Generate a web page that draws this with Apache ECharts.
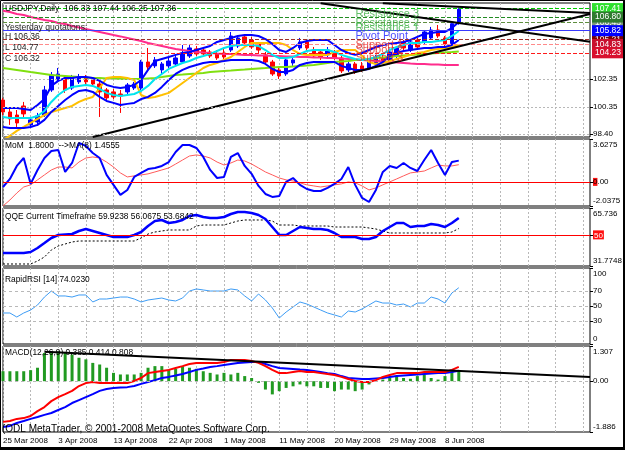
<!DOCTYPE html>
<html><head><meta charset="utf-8">
<script src="https://cdn.jsdelivr.net/npm/echarts@6/dist/echarts.min.js"></script>
<style>html,body{margin:0;padding:0;background:#fff}#c{width:625px;height:450px}</style>
</head><body><div id="c"></div>
<script>
// ---------- DATA ----------
const dateLabels = ['25 Mar 2008','3 Apr 2008','13 Apr 2008','22 Apr 2008','1 May 2008','11 May 2008','20 May 2008','29 May 2008','8 Jun 2008'];
const slotCount = 86; // bars + empty right margin
// candles: [open, close, low, high]
const candles = [
[100.84,99.98,99.76,100.99],[99.98,99.48,99.05,100.27],[99.76,99.19,98.83,100.12],[100.41,99.84,99.55,100.70],
[99.05,99.41,98.83,99.62],[99.26,99.69,98.97,99.91],[99.76,101.56,99.62,101.85],[101.56,102.64,101.42,102.85],
[102.28,102.71,102.14,103.14],[102.42,101.56,101.35,102.57],[101.70,102.42,101.56,102.64],[102.14,102.49,101.99,102.71],
[102.42,102.14,101.92,102.64],[102.28,101.99,101.85,102.49],[101.99,101.42,99.62,102.28],[101.56,100.99,100.77,101.70],
[101.42,101.06,100.91,101.63],[101.27,101.13,99.91,101.56],[101.42,101.92,101.27,102.06],[101.70,101.99,101.56,102.14],
[101.70,103.57,101.56,103.72],[103.57,103.21,102.85,104.58],[103.29,103.72,103.14,103.93],[103.00,103.43,102.71,103.57],
[103.29,103.64,103.14,103.86],[103.43,103.86,103.29,104.08],[103.57,104.22,103.43,104.79],[104.00,104.58,103.86,104.79],
[104.51,104.15,104.00,104.72],[104.43,104.15,104.00,104.58],[104.29,104.00,103.86,104.43],[104.15,103.86,103.72,104.43],
[104.22,103.93,103.79,104.58],[104.43,105.44,104.29,105.73],[104.72,105.30,104.58,105.51],[105.37,104.94,104.79,105.58],
[105.15,104.65,104.51,105.37],[104.87,104.43,104.22,105.01],[104.08,103.57,103.43,104.29],[103.57,102.71,102.57,103.72],
[103.00,102.57,102.35,103.21],[102.71,103.72,102.57,103.93],[103.50,103.72,103.29,104.00],[104.58,105.01,104.43,105.30],
[105.01,104.58,104.29,105.15],[104.43,104.00,103.86,104.65],[104.29,103.93,103.72,104.43],[104.08,104.43,103.93,104.65],
[104.22,103.86,103.72,104.43],[103.86,102.93,102.78,104.00],[103.00,103.43,102.85,103.64],[103.43,102.85,102.71,103.57],
[103.29,103.00,102.85,103.57],[103.14,103.57,103.00,103.86],[103.43,103.86,103.29,104.08],[103.86,103.57,103.43,104.08],
[103.72,104.29,103.57,104.51],[104.00,104.58,103.86,104.72],[105.01,104.58,104.43,105.15],[104.43,105.01,104.29,105.15],
[105.15,104.65,104.58,105.30],[105.01,105.73,104.87,105.87],[105.30,105.87,105.15,106.09],[105.87,105.44,105.30,106.23],
[105.30,104.87,104.72,105.44],[104.90,106.32,104.77,106.36],[106.33,107.36,106.25,107.44]
];
const bandUpper = [100.27,100.27,100.27,100.20,100.12,100.48,100.91,101.85,102.21,102.42,102.42,102.49,102.49,102.42,102.21,101.92,101.78,101.70,101.78,101.92,102.28,103.00,103.64,103.79,103.93,104.08,104.22,104.29,104.43,104.58,104.72,105.01,105.15,105.30,105.44,105.51,105.51,105.44,105.22,104.87,104.43,104.29,104.58,104.94,105.08,105.15,105.15,105.15,104.79,104.43,104.22,104.08,104.22,104.43,104.65,104.79,104.87,104.94,105.01,105.15,105.37,105.58,105.66,105.73,105.73,106.01,106.45];
const bandLower = [98.90,98.83,98.83,98.83,98.90,99.05,99.41,99.98,100.41,100.84,101.20,101.49,101.56,101.42,101.06,100.77,100.63,100.48,100.56,100.63,100.91,101.06,101.35,101.78,102.28,102.71,103.00,103.21,103.36,103.50,103.57,103.57,103.64,103.72,103.72,103.72,103.72,103.64,103.43,103.07,102.85,102.85,103.00,103.36,103.50,103.57,103.57,103.57,103.57,103.29,103.14,103.00,103.00,103.07,103.29,103.57,104.00,104.22,104.36,104.43,104.51,104.58,104.58,104.65,104.65,104.79,105.15];
const bandMid = [99.62,99.55,99.55,99.55,99.55,99.69,100.05,100.70,101.20,101.56,101.78,101.85,101.92,101.85,101.63,101.35,101.20,101.13,101.20,101.27,101.49,101.85,102.35,102.71,103.07,103.29,103.50,103.64,103.86,104.00,104.15,104.36,104.58,104.72,104.79,104.79,104.79,104.72,104.43,104.08,103.86,103.86,103.93,104.15,104.36,104.43,104.43,104.43,104.29,104.08,103.93,103.79,103.72,103.79,103.93,104.15,104.43,104.65,104.79,104.94,104.94,105.01,105.01,105.08,105.15,105.44,105.80];
const maYellow = [97.97,98.26,98.62,98.90,99.19,99.48,99.76,99.98,100.12,100.27,100.41,100.70,100.91,101.06,101.70,102.42,102.49,102.49,102.42,102.28,101.20,100.99,101.06,101.20,101.35,101.70,102.06,102.42,102.78,103.14,103.36,103.50,103.72,103.93,104.29,104.65,104.94,104.94,104.94,104.94,104.94,104.79,104.43,104.15,104.08,104.08,104.08,104.08,104.29,104.43,104.43,104.43,104.00,103.57,103.43,103.50,103.64,103.79,103.93,104.08,104.22,104.29,104.43,104.51,104.58,104.65,104.79];
const maGreen = [103.14,103.07,103.00,102.93,102.85,102.78,102.71,102.64,102.60,102.57,102.53,102.49,102.46,102.42,102.42,102.39,102.39,102.35,102.35,102.35,102.35,102.39,102.42,102.49,102.57,102.64,102.67,102.71,102.74,102.78,102.85,102.89,102.93,102.96,103.00,103.03,103.07,103.11,103.14,103.18,103.21,103.21,103.25,103.29,103.32,103.36,103.43,103.50,103.57,103.61,103.64,103.72,103.75,103.79,103.86,103.90,103.93,104.00,104.04,104.08,104.11,104.15,104.18,104.22,104.26,104.29,104.33];
const maPink = [107.26,107.16,107.02,106.95,106.81,106.70,106.59,106.52,106.37,106.30,106.16,106.05,105.94,105.84,105.73,105.62,105.51,105.41,105.30,105.19,105.08,104.94,104.83,104.72,104.61,104.51,104.43,104.36,104.29,104.25,104.22,104.18,104.15,104.15,104.11,104.08,104.08,104.04,104.04,104.00,104.00,103.97,103.97,103.93,103.93,103.90,103.90,103.86,103.86,103.82,103.79,103.75,103.72,103.68,103.64,103.61,103.57,103.54,103.50,103.46,103.43,103.43,103.39,103.39,103.36,103.36,103.36];
const pivotValues = [107.41,106.80,106.43,105.82,105.21,104.83,104.23];
const pivotNames = ['Resistance 3','Resistance 2','Resistance 1','Pivot Point','Support 1','Support 2','Support 3'];
const mainTicks = [102.35,100.35,98.40];
// trend lines: [startBar, startPrice, endBar, endPrice]
const trendLines = [[13,98.18,85,107.02],[46,107.80,85,105.02],[55,107.80,85,107.09]];
const momValues = [-0.43,0.25,1.35,2.02,-0.17,1.01,2.02,2.61,2.70,0.84,1.60,3.29,3.04,2.44,2.02,0.59,-0.25,-1.10,-0.68,0.42,0.76,1.09,1.18,1.35,1.68,2.53,3.12,3.12,2.87,2.11,1.01,0.33,0.42,2.11,2.44,1.35,0.68,-0.34,-1.02,-1.27,-1.19,0.00,0.33,-0.25,-0.60,-0.77,-0.77,-0.51,-0.17,0.25,1.26,-0.25,-1.36,-1.70,-0.68,0.84,1.35,1.18,1.60,1.18,0.92,1.85,2.70,1.60,0.59,1.68,1.80];
const momMA = [-2.04,-1.53,-0.94,-0.43,-0.25,0.17,0.59,1.01,1.26,1.26,1.18,1.68,2.02,2.11,2.02,1.68,1.26,0.76,0.42,0.51,0.59,0.68,0.84,1.01,1.18,1.51,1.85,2.19,2.28,2.19,2.02,1.68,1.43,1.60,1.85,1.77,1.51,1.18,0.84,0.59,0.33,0.17,0.08,-0.08,-0.25,-0.34,-0.43,-0.34,-0.25,-0.17,0.00,-0.08,-0.34,-0.68,-0.51,-0.25,0.00,0.25,0.51,0.76,0.84,0.92,1.18,1.43,1.35,1.35,1.4555];
const qqeFast = [39.39,39.39,39.39,39.39,39.97,42.32,45.24,48.17,49.93,50.22,50.51,52.27,53.44,52.27,51.10,49.93,48.76,48.76,48.76,49.93,51.68,55.20,58.12,58.71,56.95,57.54,58.71,61.05,61.64,60.47,59.88,59.88,60.47,62.22,63.39,63.39,62.81,61.64,59.30,54.61,49.93,49.93,52.27,54.61,54.03,53.44,53.44,52.86,51.10,48.76,48.76,48.76,47.59,47.59,48.76,52.27,54.61,56.95,56.95,54.61,55.20,55.20,56.37,55.78,54.61,56.95,59.92];
const qqeSlow = [32.95,32.95,32.95,32.95,32.95,34.70,37.05,41.14,43.49,44.66,45.83,46.41,46.41,46.41,46.41,46.41,46.41,46.41,46.41,46.41,48.17,50.51,51.68,52.27,52.86,52.86,52.86,52.86,55.20,55.78,55.78,55.78,55.78,56.95,58.12,58.71,58.71,58.71,58.71,58.12,55.78,55.78,55.78,55.20,55.20,55.20,55.20,55.20,54.61,54.61,54.61,54.61,54.61,54.03,53.44,52.27,51.10,51.10,51.10,51.10,51.10,51.10,51.10,51.10,51.10,51.68,53.68];
const rsiValues = [40.8,40.8,35.5,40.8,44.7,51.3,61.8,69.7,63.2,63.2,61.8,64.5,64.5,55.3,59.2,59.2,60.5,61.8,61.8,59.2,55.3,57.9,59.2,60.5,57.9,56.6,60.5,69.7,72.4,71.1,69.7,69.7,69.7,72.4,71.1,63.2,56.6,65.8,57.9,47.4,34.2,42.1,48.7,55.3,52.6,48.7,44.7,40.8,38.2,35.5,43.4,42.1,46.1,51.3,56.6,53.9,53.9,51.3,52.6,48.7,53.9,53.9,61.8,59.2,53.9,67.1,74.02];
const macdHist = [0.37,0.37,0.37,0.37,0.41,0.50,1.05,1.11,1.11,1.05,0.99,0.87,0.81,0.68,0.62,0.50,0.31,0.25,0.25,0.25,0.31,0.50,0.56,0.56,0.43,0.46,0.56,0.50,0.46,0.37,0.31,0.25,0.31,0.25,0.31,0.19,0.12,-0.06,-0.31,-0.49,-0.37,-0.25,-0.19,-0.12,-0.19,-0.19,-0.25,-0.25,-0.37,-0.31,-0.31,-0.37,-0.31,-0.12,0.00,0.06,0.12,0.19,0.12,0.09,0.19,0.25,0.12,0.06,0.19,0.37,0.41];
const macdRed = [-1.51,-1.48,-1.40,-1.37,-1.29,-1.11,-0.96,-0.74,-0.59,-0.48,-0.36,-0.18,-0.07,-0.03,-0.07,-0.07,-0.07,-0.07,-0.07,0.01,0.12,0.30,0.34,0.38,0.42,0.49,0.56,0.64,0.68,0.68,0.68,0.68,0.71,0.79,0.79,0.79,0.75,0.68,0.56,0.42,0.30,0.30,0.34,0.38,0.34,0.34,0.30,0.27,0.23,0.16,0.08,0.01,-0.03,-0.03,0.04,0.16,0.23,0.30,0.30,0.30,0.30,0.34,0.34,0.34,0.34,0.42,0.53];
const macdBlue = [-1.70,-1.66,-1.55,-1.48,-1.40,-1.33,-1.25,-1.18,-1.07,-0.96,-0.81,-0.70,-0.59,-0.48,-0.36,-0.29,-0.25,-0.23,-0.22,-0.18,-0.10,-0.03,0.04,0.12,0.16,0.21,0.27,0.34,0.42,0.47,0.53,0.56,0.60,0.64,0.68,0.69,0.71,0.71,0.64,0.56,0.49,0.47,0.45,0.43,0.42,0.38,0.34,0.30,0.27,0.19,0.12,0.10,0.08,0.08,0.10,0.12,0.16,0.19,0.21,0.23,0.25,0.27,0.29,0.30,0.30,0.34,0.385];
const macdTrend = [6,1.09,85,0.16];
const texts = {
  main: 'USDJPY,Daily  106.33 107.44 106.25 107.36',
  yq: 'Yesterday quotations:', yh: 'H 106.36', yl: 'L 104.77', yc: 'C 106.32',
  mom: 'MoM  1.8000  -->MA(8) 1.4555',
  qqe: 'QQE Current Timeframe 59.9238 56.0675 53.6842',
  rsi: 'RapidRSI [14] 74.0230',
  macd: 'MACD(12,26,9) 0.385 0.414 0.808',
  copy: '(ODL MetaTrader, \u00a9 2001-2008 MetaQuotes Software Corp.'
};

// ---------- LAYOUT / STYLE ----------
const FONT = 'Liberation Sans';
const L = 3, R = 35;
const panels = [
  {top:3, height:134},
  {top:139, height:67},
  {top:208, height:58},
  {top:268, height:76},
  {top:346, height:86}
];
const slots = Array.from({length: slotCount}, (_, i) => i);
const grids = panels.map(p => ({left:L, right:R, top:p.top, height:p.height, show:true, borderColor:'#000', borderWidth:1, backgroundColor:'#fff'}));
const xAxes = panels.map((p, gi) => ({
  type:'category', gridIndex:gi, data:slots, boundaryGap:false,
  axisLine:{show:false}, axisTick:{show:false},
  splitLine:{show:true, interval:3, lineStyle:{color:'#b8b8b8', type:[2,2], width:1}},
  axisLabel: gi === 4 ? {
    show:true, interval:7, align:'left', margin:5, fontSize:8, fontFamily:FONT, color:'#000',
    formatter:(v, idx) => (idx % 8 === 0 && idx / 8 < dateLabels.length) ? dateLabels[idx / 8] : ''
  } : {show:false}
}));
function yAx(gi, min, max, vals, fmt, rich) {
  return {type:'value', gridIndex:gi, position:'right', min, max, scale:true,
    axisLine:{show:false}, splitLine:{show:false},
    axisTick:{show:true, customValues:vals, length:3, lineStyle:{color:'#000'}},
    axisLabel:{customValues:vals, formatter:fmt, rich:rich||{}, fontSize:8, fontFamily:FONT, color:'#000', margin:3}};
}
const edgeRich = {t:{padding:[11,0,0,0], fontSize:8, fontFamily:FONT}, b:{padding:[0,0,11,0], fontSize:8, fontFamily:FONT},
  hl:{backgroundColor:'#ff1010', color:'#000', fontSize:8, fontFamily:FONT}, hlw:{backgroundColor:'#ff1010', color:'#fff', fontSize:8, fontFamily:FONT, padding:[1,1,0,1]}};
const yAxes = [
  yAx(0, 98.18, 107.81, mainTicks, v => v.toFixed(2)),
  yAx(1, -2.0375, 3.6275, [3.6275, 0, -2.0375], v => v > 3 ? '{t|3.6275}' : (v < -2 ? '{b|-2.0375}' : '{hl|0}.00'), edgeRich),
  yAx(2, 31.7748, 65.736, [65.736, 50, 31.7748], v => v > 60 ? '{t|65.736}' : (v < 40 ? '{b|31.7748}' : '{hlw|50}'), edgeRich),
  yAx(3, 0, 100, [100, 70, 50, 30, 0], v => v === 100 ? '{t|100}' : (v === 0 ? '{b|0}' : String(v)), edgeRich),
  yAx(4, -1.886, 1.307, [1.307, 0, -1.886], v => v > 1 ? '{t|1.307}' : (v < -1 ? '{b|-1.886}' : '0.00'), edgeRich)
];

function line(gi, data, color, width, extra) {
  return Object.assign({type:'line', xAxisIndex:gi, yAxisIndex:gi, data, symbol:'none', silent:true,
    lineStyle:{color, width}, animation:false, clip:true}, extra||{});
}
function hLines(vals, color, type) {
  return {silent:true, symbol:['none','none'], animation:false, label:{show:false},
    lineStyle:{color, type, width:1}, data: vals.map(v => ({yAxis:v}))};
}
const pivotLineColor = ['#00cc00','#228b22','#5f8f3f','#3a3aff','#a0302a','#ff8a8a','#ff1a1a'];
const pivotLineType = ['dashed','dashed','dashed','solid','dashed','dashed','dashed'];
const pivotLabelBg = ['#2ee02e','#2f7a2f','#7c9a7c','#0000ff','#7a0000','#c8102e','#d8102e'];
const pivotTextColor = ['#3cb043','#3cb043','#3cb043','#1a1aff','#e0302a','#e0302a','#e0302a'];
const pivotOrder = [2,4,0,1,3,5,6];

const series = [
  {type:'candlestick', xAxisIndex:0, yAxisIndex:0, data:candles, barWidth:4, silent:true, animation:false,
    itemStyle:{color:'#0000ff', color0:'#ff0000', borderColor:'#0000ff', borderColor0:'#ff0000', borderWidth:1},
    markLine:{silent:true, symbol:['none','none'], animation:false, precision:2,
      data: pivotOrder.map(k => ({yAxis:pivotValues[k],
        lineStyle:{color:pivotLineColor[k], type:pivotLineType[k], width:1},
        label:{show:true, position:'end', distance:2, formatter:pivotValues[k].toFixed(2), backgroundColor:pivotLabelBg[k],
          color:'#fff', fontSize:8.5, fontFamily:FONT, padding:[1,3,1,3]}}))}
  },
  line(0, maPink, '#ff2c8c', 2),
  line(0, maGreen, '#80e010', 2),
  line(0, maYellow, '#ffc000', 2),
  line(0, bandUpper, '#0000ff', 2),
  line(0, bandLower, '#0000ff', 2),
  line(0, bandMid, '#00e4ee', 2, {
    markLine:{silent:true, symbol:['none','none'], animation:false, label:{show:false},
      lineStyle:{color:'#000', width:2, type:'solid'},
      data: trendLines.map(t => [{coord:[t[0], t[1]]}, {coord:[t[2], t[3]]}])}
  }),
  {type:'scatter', xAxisIndex:0, yAxisIndex:0, silent:true, animation:false, symbol:'circle', symbolSize:0.5,
    itemStyle:{color:'rgba(255,255,255,0)'}, z:5,
    data: pivotValues.map((v, k) => ({value:[51, v], label:{show:true, position:'right', distance:0, align:'left', verticalAlign:'top',
      formatter:pivotNames[k], color:pivotTextColor[k], fontSize:11, fontFamily:FONT}})),
    markLine: hLines([102.35, 100.35, 98.40], '#b8b8b8', [2,2])
  },
  // MoM
  line(1, momMA, '#ff5a5a', 1),
  line(1, momValues, '#0000ff', 2, {markLine: hLines([0], '#ff0000', 'solid')}),
  // QQE
  line(2, qqeSlow, '#000', 1, {lineStyle:{color:'#000', width:1, type:[2,2]}}),
  line(2, qqeFast, '#0000ff', 2.5, {markLine: hLines([50], '#ff0000', 'solid')}),
  // RSI
  line(3, rsiValues, '#3d9cf5', 1, {markLine: hLines([70,50,30], '#b8b8b8', [3,3])}),
  // MACD
  {type:'bar', xAxisIndex:4, yAxisIndex:4, data:macdHist, barWidth:3, silent:true, animation:false,
    itemStyle:{color:'#219a21'}, markLine: hLines([0], '#b8b8b8', [3,3])},
  line(4, macdBlue, '#0000ff', 2),
  line(4, macdRed, '#ff0000', 2, {
    markLine:{silent:true, symbol:['none','none'], animation:false, label:{show:false},
      lineStyle:{color:'#000', width:2, type:'solid'},
      data:[[{coord:[macdTrend[0], macdTrend[1]]},{coord:[macdTrend[2], macdTrend[3]]}]]}
  })
];

function txt(x, y, s, size, color) {
  return {type:'text', x, y, silent:true, z:100, style:{text:s, fill:color||'#000', font:(size||8.5)+'px "'+FONT+'"', textVerticalAlign:'middle'}};
}
const graphic = [
  txt(5, 9, texts.main, 8.6),
  txt(5, 28, texts.yq, 8.6, '#222'),
  txt(5, 37, texts.yh, 8.6, '#222'),
  txt(5, 48, texts.yl, 8.6, '#222'),
  txt(5, 59, texts.yc, 8.6, '#222'),
  txt(5, 146, texts.mom, 8.4),
  txt(5, 217, texts.qqe, 8.4),
  txt(5, 280, texts.rsi, 8.4),
  txt(5, 353, texts.macd, 8.4),
  txt(2, 429, texts.copy, 10),
  {type:'rect', silent:true, z:100, shape:{x:0.5, y:0.5, width:624, height:449}, style:{fill:null, stroke:'#000', lineWidth:1}},
  {type:'rect', silent:true, z:100, shape:{x:0, y:447, width:625, height:3}, style:{fill:'#000'}},
  {type:'rect', silent:true, z:100, shape:{x:623, y:0, width:2, height:450}, style:{fill:'#000'}}
];

const chart = echarts.init(document.getElementById('c'), null, {renderer:'canvas'});
chart.setOption({
  animation:false, backgroundColor:'#fff',
  textStyle:{fontFamily:FONT},
  grid:grids, xAxis:xAxes, yAxis:yAxes, series, graphic
});
</script></body></html>
